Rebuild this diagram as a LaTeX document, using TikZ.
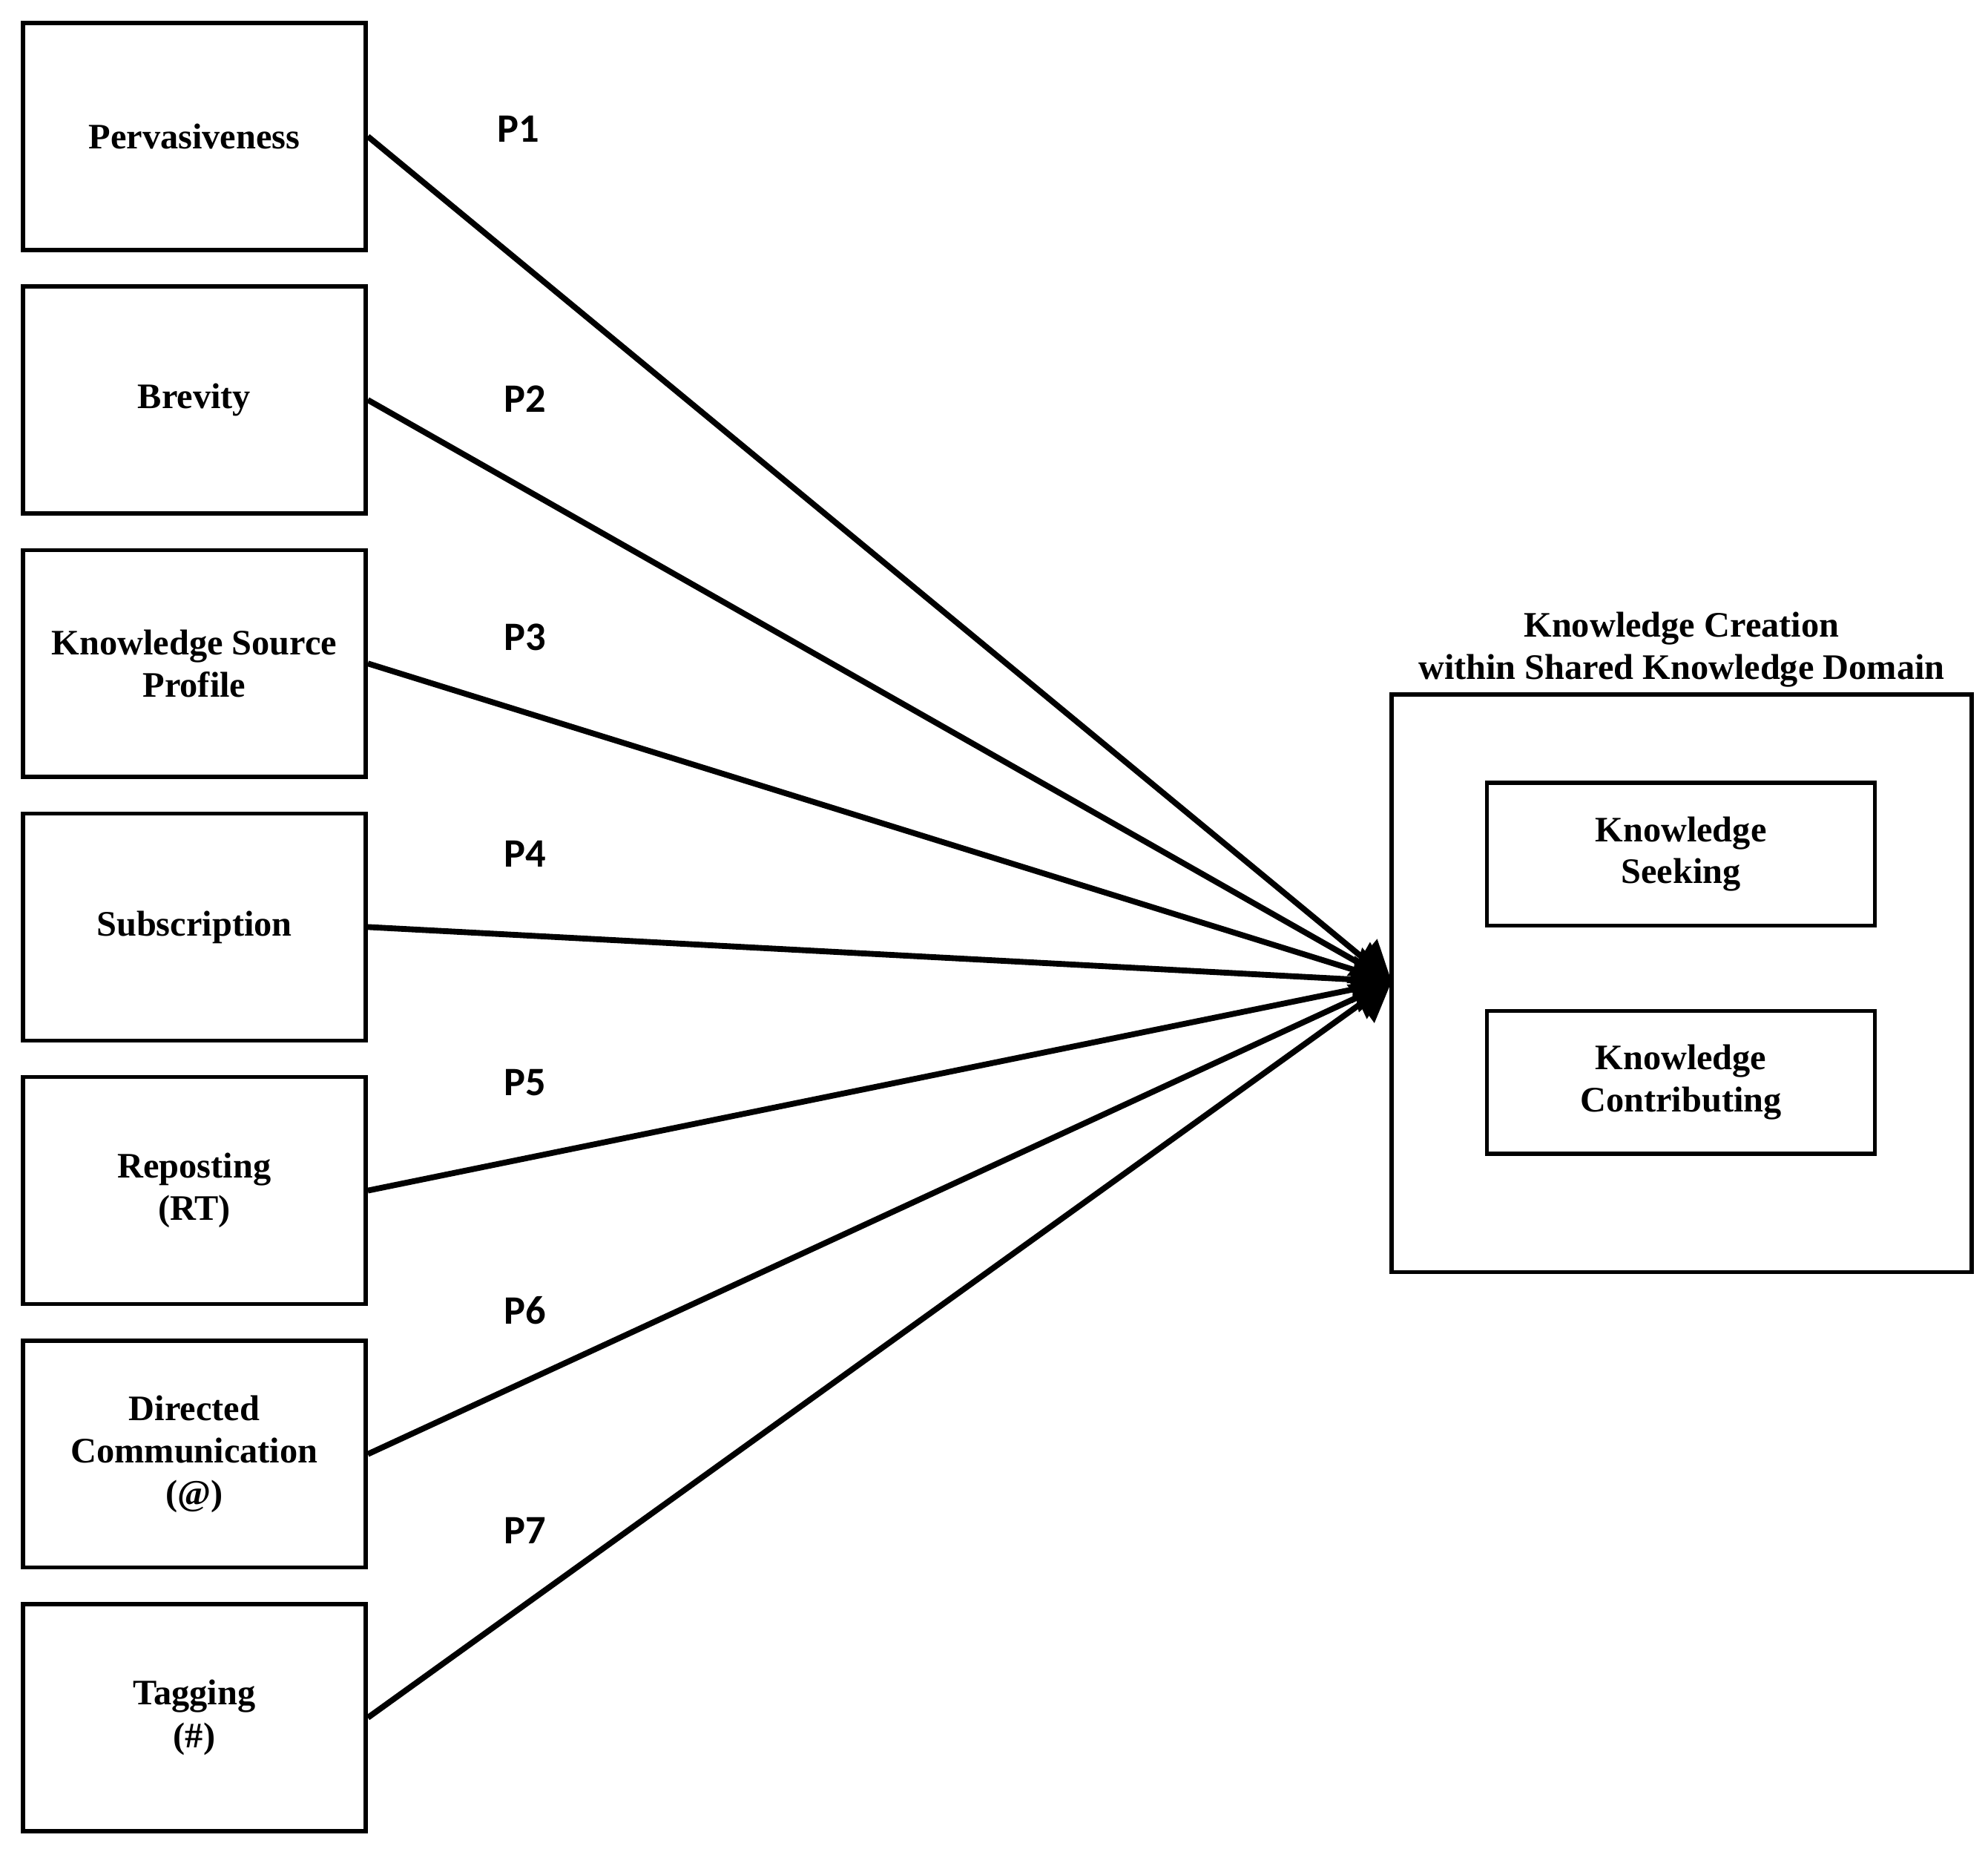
\documentclass[tikz,border=0pt]{standalone}
\usepackage{fontspec}
\setmainfont{Liberation Serif}
\newfontfamily\plabel{Carlito}
\usetikzlibrary{arrows.meta}
\begin{document}
\begin{tikzpicture}[x=0.01cm,y=-0.01cm,
    box/.style={draw,line width=0.9pt,minimum width=2.69cm,minimum height=1.78cm,
      align=center,font=\fontsize{8}{9.5}\selectfont\bfseries},
    inbox/.style={draw,line width=0.9pt,minimum width=3.04cm,minimum height=1.12cm,
      align=center,font=\fontsize{8}{9.3}\selectfont\bfseries},
    link/.style={line width=1.3pt,-{Triangle[length=0.3cm,width=0.36cm]}},
    plab/.style={font=\plabel\fontsize{9}{10}\selectfont\bfseries}]
      \useasboundingbox (0,0) rectangle (1560,1450);

      \def\yA{107}
      \def\step{206.75}

      % Facteurs
      \node[box] (b1) at (152.5,\yA) {Pervasiveness};
      \node[box] (b2) at (152.5,\yA+\step) {Brevity};
      \node[box] (b3) at (152.5,\yA+2*\step) {Knowledge Source\\Profile};
      \node[box] (b4) at (152.5,\yA+3*\step) {Subscription};
      \node[box] (b5) at (152.5,\yA+4*\step) {Reposting\\(RT)};
      \node[box] (b6) at (152.5,\yA+5*\step) {Directed\\Communication\\(@)};
      \node[box] (b7) at (152.5,\yA+6*\step) {Tagging\\(\#)};

      % Cible
      \node[draw,line width=0.9pt,minimum width=4.55cm,minimum height=4.53cm] (kc) at (1319.5,771.5) {};
      \node[font=\fontsize{8}{9.4}\selectfont\bfseries,align=center,above,inner sep=1pt] (title) at (kc.north)
        {Knowledge Creation\\within Shared Knowledge Domain};
      \node[inbox] (ks) at (1319,670) {Knowledge\\Seeking};
      \node[inbox] (kcon) at (1319,849) {Knowledge\\Contributing};
      \coordinate (tip) at (1092,770);

      % Fleches
      \foreach \i in {1,...,7}
        \draw[link] (b\i.east) -- (tip);

      % Propositions
      \node[plab] at (407,101) {P1};
      \node[plab] at (412,313) {P2};
      \node[plab] at (412,500) {P3};
      \node[plab] at (412,670) {P4};
      \node[plab] at (412,849) {P5};
      \node[plab] at (412,1028) {P6};
      \node[plab] at (412,1201) {P7};
\end{tikzpicture}
\end{document}
